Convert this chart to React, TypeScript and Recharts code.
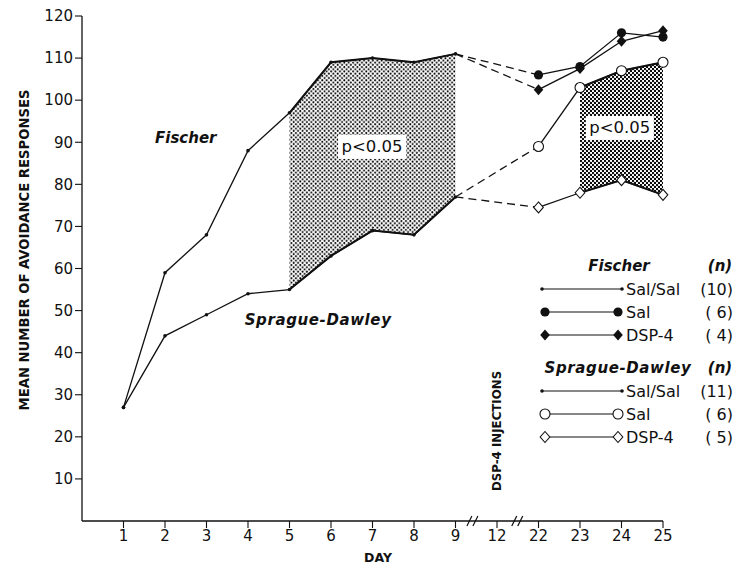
import {
  ComposedChart,
  Line,
  Area,
  XAxis,
  YAxis,
  ReferenceDot,
  Legend,
} from 'recharts';

// Days on the x axis; positions 1..14 are evenly spaced, the axis is broken after 9 and after 12
const dayLabels = ['1', '2', '3', '4', '5', '6', '7', '8', '9', '12', '22', '23', '24', '25'];
const preDays = [1, 2, 3, 4, 5, 6, 7, 8, 9];
const postDays = [11, 12, 13, 14];
const injectionDay = 10;

// Sal/Sal groups, days 1-9
const fischerSalSal = [27, 59, 68, 88, 97, 109, 110, 109, 111];
const sdSalSal = [27, 44, 49, 54, 55, 63, 69, 68, 77];

// After injections, days 22-25
const fischerSal = [106, 108, 116, 115];
const fischerDsp4 = [102.5, 107.5, 114, 116.5];
const sdSal = [89, 103, 107, 109];
const sdDsp4 = [74.5, 78, 81, 77.5];

const yTicks = [10, 20, 30, 40, 50, 60, 70, 80, 90, 100, 110, 120];

const groupLabels = ['Sal/Sal', 'Sal', 'DSP-4'];
const fischerN = [10, 6, 4];
const sdN = [11, 6, 5];

const INK = '#111';
const FONT = '"DejaVu Sans", sans-serif';

const toPoints = (xs: number[], ys: number[]) => xs.map((x, i) => ({ x, y: ys[i] }));
const toRange = (xs: number[], lo: number[], hi: number[]) =>
  xs.map((x, i) => ({ x, range: [lo[i], hi[i]] }));

// shaded significance bands
const earlyBand = toRange(preDays.slice(4), sdSalSal.slice(4), fischerSalSal.slice(4));
const lateBand = toRange(postDays.slice(1), sdDsp4.slice(1), sdSal.slice(1));

const last = (a: number[]) => a[a.length - 1];
const bridge = (from: number[], to: number[]) => [
  { x: preDays[preDays.length - 1], y: last(from) },
  { x: postDays[0], y: to[0] },
];

type MarkerKind = 'dot' | 'filledCircle' | 'openCircle' | 'filledDiamond' | 'openDiamond';

function Marker({ cx, cy, kind }: { cx: number; cy: number; kind: MarkerKind }) {
  if (cx == null || cy == null) return null;
  switch (kind) {
    case 'dot':
      return <circle cx={cx} cy={cy} r={1.8} fill={INK} />;
    case 'filledCircle':
      return <circle cx={cx} cy={cy} r={4.6} fill={INK} />;
    case 'openCircle':
      return <circle cx={cx} cy={cy} r={5} fill="#fff" stroke={INK} strokeWidth={1.1} />;
    case 'filledDiamond':
    case 'openDiamond': {
      const d = `M${cx},${cy - 5.5}L${cx + 4.8},${cy}L${cx},${cy + 5.5}L${cx - 4.8},${cy}Z`;
      return kind === 'filledDiamond' ? (
        <path d={d} fill={INK} />
      ) : (
        <path d={d} fill="#fff" stroke={INK} strokeWidth={1.1} />
      );
    }
  }
  return null;
}

const dotOf = (kind: MarkerKind) => (p: any) =>
  <Marker key={`${kind}-${p.index}`} cx={p.cx} cy={p.cy} kind={kind} />;

const pBox = (p: any) => (
  <g>
    <rect x={p.cx - 34} y={p.cy - 12} width={68} height={24} fill="#fff" />
    <text x={p.cx} y={p.cy} textAnchor="middle" dominantBaseline="central"
      fontFamily={FONT} fontSize={16.5} fill={INK}>p&lt;0.05</text>
  </g>
);

const strainLabel = (text: string, spacing: number) => (p: any) => (
  <text x={p.cx} y={p.cy} textAnchor="middle" dominantBaseline="central"
    fontFamily={FONT} fontSize={15} fontWeight="bold" fontStyle="italic"
    letterSpacing={spacing} fill={INK}>{text}</text>
);

const injectionLabel = (p: any) => (
  <text transform={`translate(${p.cx},${p.cy}) rotate(-90)`} textAnchor="middle"
    dominantBaseline="central" fontFamily={FONT} fontSize={11.8} fontWeight="bold"
    fill={INK}>DSP-4 INJECTIONS</text>
);

const axisBreak = (p: any) => (
  <g stroke={INK} strokeWidth={1.2}>
    <line x1={p.cx - 6} y1={p.cy + 5} x2={p.cx - 1} y2={p.cy - 5} />
    <line x1={p.cx} y1={p.cy + 5} x2={p.cx + 5} y2={p.cy - 5} />
  </g>
);

const fischerKinds: MarkerKind[] = ['dot', 'filledCircle', 'filledDiamond'];
const sdKinds: MarkerKind[] = ['dot', 'openCircle', 'openDiamond'];

function KeyBlock({ title, top, kinds, counts, titleX, spacing }: {
  title: string; top: number; kinds: MarkerKind[]; counts: number[]; titleX: number; spacing: number;
}) {
  return (
    <g>
      <text x={titleX} y={top} textAnchor="middle" dominantBaseline="central"
        fontFamily={FONT} fontSize={15} fontWeight="bold" fontStyle="italic"
        letterSpacing={spacing} fill={INK}>{title}</text>
      <text x={190} y={top} textAnchor="middle" dominantBaseline="central"
        fontFamily={FONT} fontSize={15} fontWeight="bold" fontStyle="italic" fill={INK}>(n)</text>
      {kinds.map((k, i) => {
        const y = top + 23 * (i + 1);
        const big = k !== 'dot';
        return (
          <g key={k}>
            <line x1={big ? 15 : 12} y1={y} x2={big ? 88 : 92} y2={y} stroke={INK} strokeWidth={1.2} />
            <Marker cx={big ? 15 : 12} cy={y} kind={k} />
            <Marker cx={big ? 88 : 92} cy={y} kind={k} />
            <text x={96} y={y} dominantBaseline="central" fontFamily={FONT} fontSize={16} fill={INK}>
              {groupLabels[i]}
            </text>
            <text x={203} y={y} textAnchor="end" dominantBaseline="central" fontFamily={FONT}
              fontSize={16} fill={INK} style={{ whiteSpace: 'pre' }}>
              {counts[i] < 10 ? `( ${counts[i]})` : `(${counts[i]})`}
            </text>
          </g>
        );
      })}
    </g>
  );
}

const groupKey = () => (
  <svg width={205} height={200}>
    <KeyBlock title="Fischer" top={16} kinds={fischerKinds} counts={fischerN} titleX={89} spacing={0} />
    <KeyBlock title="Sprague-Dawley" top={118} kinds={sdKinds} counts={sdN} titleX={88} spacing={0.6} />
  </svg>
);

export default function App() {
  const solid = { stroke: INK, strokeWidth: 1.3, isAnimationActive: false, dataKey: 'y', type: 'linear' as const };
  const dashed = { ...solid, strokeDasharray: '8 5', dot: false };

  return (
    <div style={{ position: 'absolute', left: 0, top: 0, background: '#fff' }}>
      <ComposedChart width={735} height={567} margin={{ top: 16, right: 72, bottom: 0, left: 22 }}>
        <defs>
          <pattern id="stippleLight" width={4.4} height={4.4} patternUnits="userSpaceOnUse">
            <circle cx={1.1} cy={1.1} r={1} fill="#000" />
            <circle cx={3.3} cy={3.3} r={1} fill="#000" />
          </pattern>
          <pattern id="stippleDark" width={4} height={4} patternUnits="userSpaceOnUse">
            <circle cx={1} cy={1} r={1.15} fill="#000" />
            <circle cx={3} cy={3} r={1.15} fill="#000" />
          </pattern>
        </defs>
        <XAxis
          type="number"
          dataKey="x"
          domain={[0, 14]}
          ticks={dayLabels.map((_, i) => i + 1)}
          tickFormatter={(v: number) => dayLabels[v - 1]}
          interval={0}
          height={46}
          tickSize={7}
          axisLine={{ stroke: INK, strokeWidth: 1.3 }}
          tickLine={{ stroke: INK, strokeWidth: 1.1 }}
          tick={{ fill: INK, fontSize: 15, fontFamily: FONT }}
          label={{
            content: () => (
              <text x={378} y={557} textAnchor="middle" dominantBaseline="central"
                fontFamily={FONT} fontSize={12.5} fontWeight="bold" fill={INK}>DAY</text>
            ),
          }}
        />
        <YAxis
          type="number"
          domain={[0, 120]}
          ticks={yTicks}
          width={60}
          tickSize={7}
          axisLine={{ stroke: INK, strokeWidth: 1.3 }}
          tickLine={{ stroke: INK, strokeWidth: 1.1 }}
          tick={{ fill: INK, fontSize: 15, fontFamily: FONT }}
          label={{
            content: () => (
              <text transform="translate(24,250) rotate(-90)" textAnchor="middle"
                dominantBaseline="central" fontFamily={FONT} fontSize={13.2}
                fontWeight="bold" fill={INK}>MEAN NUMBER OF AVOIDANCE RESPONSES</text>
            ),
          }}
        />

        <Area data={earlyBand} dataKey="range" type="linear" fill="url(#stippleLight)"
          fillOpacity={1} stroke={INK} strokeWidth={2} isAnimationActive={false} />
        <Area data={lateBand} dataKey="range" type="linear" fill="url(#stippleDark)"
          fillOpacity={1} stroke={INK} strokeWidth={2} isAnimationActive={false} />

        <Line {...solid} data={toPoints(preDays, fischerSalSal)} dot={dotOf('dot')} />
        <Line {...solid} data={toPoints(preDays, sdSalSal)} dot={dotOf('dot')} />

        <Line {...dashed} data={bridge(fischerSalSal, fischerSal)} />
        <Line {...dashed} data={bridge(fischerSalSal, fischerDsp4)} />
        <Line {...dashed} data={bridge(sdSalSal, sdSal)} />
        <Line {...dashed} data={bridge(sdSalSal, sdDsp4)} />

        <Line {...solid} data={toPoints(postDays, sdSal)} dot={dotOf('openCircle')} />
        <Line {...solid} data={toPoints(postDays, sdDsp4)} dot={dotOf('openDiamond')} />
        <Line {...solid} data={toPoints(postDays, fischerSal)} dot={dotOf('filledCircle')} />
        <Line {...solid} data={toPoints(postDays, fischerDsp4)} dot={dotOf('filledDiamond')} />

        <ReferenceDot x={2.5} y={91} shape={strainLabel('Fischer', 0)} ifOverflow="visible" />
        <ReferenceDot x={5.69} y={47.8} shape={strainLabel('Sprague-Dawley', 0.6)} ifOverflow="visible" />
        <ReferenceDot x={6.99} y={88.9} shape={pBox} ifOverflow="visible" />
        <ReferenceDot x={12.96} y={93.4} shape={pBox} ifOverflow="visible" />
        <ReferenceDot x={injectionDay} y={21.4} shape={injectionLabel} ifOverflow="visible" />
        <ReferenceDot x={9.42} y={0} shape={axisBreak} ifOverflow="visible" />
        <ReferenceDot x={10.5} y={0} shape={axisBreak} ifOverflow="visible" />

        <Legend
          layout="horizontal"
          align="center"
          verticalAlign="middle"
          content={groupKey}
          wrapperStyle={{ left: 530, top: 250, width: 205, height: 200 }}
        />
      </ComposedChart>
    </div>
  );
}
